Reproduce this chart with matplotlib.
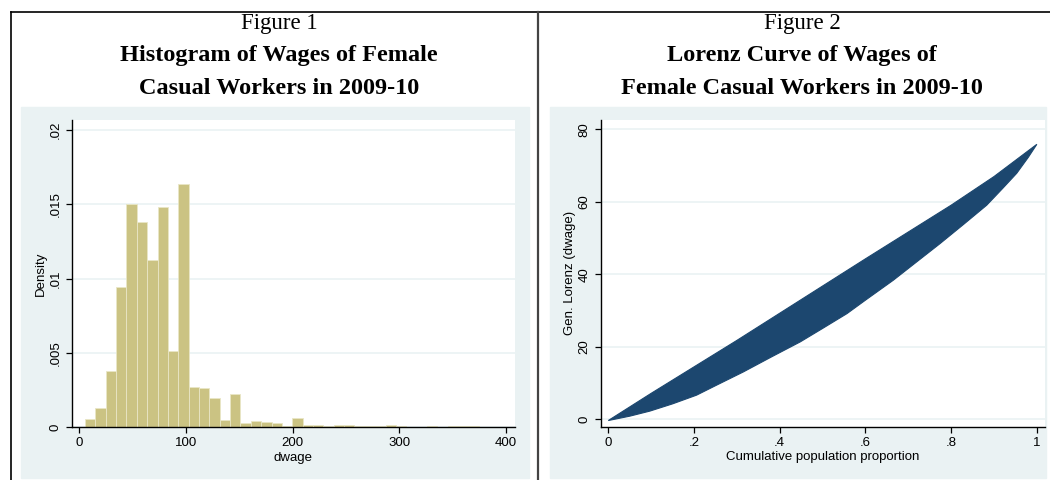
import numpy as np
import matplotlib
matplotlib.use("Agg")
import matplotlib.pyplot as plt
from matplotlib.patches import Rectangle
from matplotlib.lines import Line2D

# Figure 1: histogram of daily wages (density per bin)
BIN_START = 5.3
BIN_WIDTH = 9.72
density = [
    0.00056, 0.00128, 0.00379, 0.00946, 0.0150, 0.01383, 0.01126, 0.0148,
    0.00513, 0.01637, 0.00267, 0.00265, 0.00197, 0.00049, 0.00224, 0.00027,
    0.00038, 0.00035, 0.00028, 0.0001, 0.0006, 0.00016, 0.00016, 0.00006,
    0.00011, 0.00015, 0.00009, 0.00005, 0.00005, 0.00012, 0.00009, 0.00002,
    0.00002, 0.00006, 0.00002, 0.00006, 0.00006, 0.00006,
]
hist_xticks = [0, 100, 200, 300, 400]
hist_yticks = [0, 0.005, 0.01, 0.015, 0.02]
hist_ylabels = ["0", ".005", ".01", ".015", ".02"]

p_upper = [0, 0.1, 0.2, 0.3, 0.4, 0.5, 0.6, 0.7, 0.8, 0.9, 1.0]
gl_upper = [-0.3, 7.2, 14.5, 21.8, 29.3, 36.8, 44.3, 51.7, 59.1, 67.0, 75.9]
p_lower = [0, 0.05, 0.097, 0.15, 0.206, 0.25, 0.315, 0.38, 0.448, 0.5, 0.557,
           0.6, 0.665, 0.72, 0.774, 0.83, 0.883, 0.92, 0.953, 0.98, 1.0]
gl_lower = [-0.3, 0.9, 2.3, 4.3, 6.7, 9.3, 13.1, 17.2, 21.4, 25.1, 29.2,
            32.9, 38.4, 43.5, 48.5, 53.9, 59.1, 63.7, 67.9, 72.3, 75.9]
lor_xticks = [0, 0.2, 0.4, 0.6, 0.8, 1.0]
lor_xlabels = ["0", ".2", ".4", ".6", ".8", "1"]
lor_yticks = [0, 20, 40, 60, 80]

BG = "#eaf2f3"
BAR = "#cbc383"
NAVY = "#1c476f"
W, H = 1050, 480
TICK_FS = 9.5


def fx(px):
    return px / W


def fy(py):
    return 1 - py / H


def style_axes(ax):
    for s in ["top", "right"]:
        ax.spines[s].set_visible(False)
    for s in ["left", "bottom"]:
        ax.spines[s].set_linewidth(1.0)
        ax.spines[s].set_color("black")
    ax.tick_params(direction="out", length=4, width=0.9, labelsize=TICK_FS, pad=3.5)
    ax.grid(axis="y", color=BG, linewidth=1.2)
    ax.set_axisbelow(True)
    for lab in ax.get_yticklabels():
        lab.set_rotation(90)
        lab.set_va("center")


plt.rcParams["font.family"] = ["Liberation Sans", "DejaVu Sans"]
fig = plt.figure(figsize=(10.5, 4.8), dpi=100)

# light panels behind each graph
fig.patches.append(Rectangle((fx(21), fy(478)), fx(508), 371 / H,
                             transform=fig.transFigure, color=BG, zorder=-10))
fig.patches.append(Rectangle((fx(550), fy(478)), fx(496), 371 / H,
                             transform=fig.transFigure, color=BG, zorder=-10))

# table frame lines
fig.lines.append(Line2D([fx(11), 1], [fy(12), fy(12)], transform=fig.transFigure,
                        color="black", linewidth=1.2))
fig.lines.append(Line2D([fx(11), fx(11)], [fy(12), 0], transform=fig.transFigure,
                        color="black", linewidth=1.2))
fig.lines.append(Line2D([fx(538), fx(538)], [fy(12), 0], transform=fig.transFigure,
                        color="#444444", linewidth=1.6))

# titles
serif = ["Liberation Serif", "DejaVu Serif"]
for cx, lines in [(279, ["Histogram of Wages of Female", "Casual Workers in 2009-10"]),
                  (802, ["Lorenz Curve of Wages of", "Female Casual Workers in 2009-10"])]:
    fig_num = "Figure 1" if cx < 500 else "Figure 2"
    fig.text(fx(cx), fy(23), fig_num, ha="center", va="center",
             family=serif, fontsize=16.5)
    fig.text(fx(cx), fy(55), lines[0], ha="center", va="center",
             family=serif, fontsize=17.5, weight="bold")
    fig.text(fx(cx), fy(88), lines[1], ha="center", va="center",
             family=serif, fontsize=17.5, weight="bold")

# --- histogram ---
ax1 = fig.add_axes([fx(71.7), fy(427), 443.3 / W, 307 / H])
left_edges = BIN_START + BIN_WIDTH * np.arange(len(density))
ax1.bar(left_edges, density, width=BIN_WIDTH, align="edge", color=BAR,
        edgecolor="#e9e6c6", linewidth=0.6, zorder=2)
ax1.set_xlim(-7.1, 408.5)
ax1.set_ylim(0, 0.02068)
ax1.set_xticks(hist_xticks)
ax1.set_yticks(hist_yticks)
ax1.set_yticklabels(hist_ylabels)
ax1.set_xlabel("dwage", fontsize=TICK_FS, labelpad=1.5)
ax1.set_ylabel("Density", fontsize=TICK_FS, labelpad=2)
style_axes(ax1)

# --- Lorenz curve ---
ax2 = fig.add_axes([fx(601), fy(426.7), 444 / W, 306.7 / H])
band_x = np.concatenate([p_upper, p_lower[::-1]])
band_y = np.concatenate([gl_upper, gl_lower[::-1]])
ax2.fill(band_x, band_y, color=NAVY, linewidth=0.8, edgecolor=NAVY, zorder=2)
ax2.set_xlim(-0.017, 1.019)
ax2.set_ylim(-2.0, 82.6)
ax2.set_xticks(lor_xticks)
ax2.set_xticklabels(lor_xlabels)
ax2.set_yticks(lor_yticks)
ax2.set_xlabel("Cumulative population proportion", fontsize=TICK_FS, labelpad=1.5)
ax2.set_ylabel("Gen. Lorenz (dwage)", fontsize=TICK_FS, labelpad=2)
style_axes(ax2)

fig.savefig("out.png", dpi=100)
